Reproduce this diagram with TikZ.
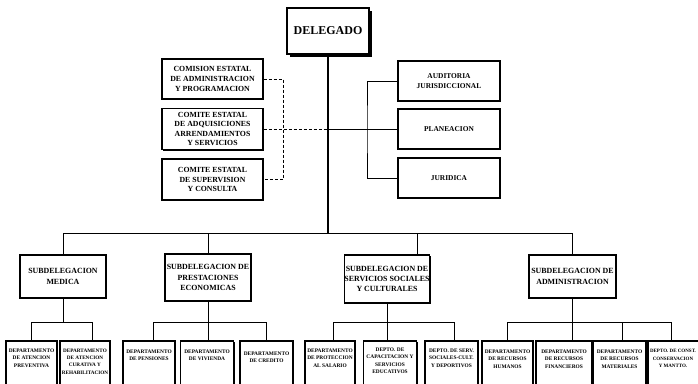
\documentclass[tikz,border=0pt]{standalone}
\usepackage{fontspec}
\setmainfont{Liberation Serif}
\usetikzlibrary{shadows}
\begin{document}
\begin{tikzpicture}[x=1pt,y=-1pt,
  boxbase/.style={draw, line width=1.1pt, fill=white, inner sep=0pt, align=center,
    drop shadow={fill=black, opacity=1, shadow xshift=1pt, shadow yshift=-1pt}},
  topbox/.style={boxbase, line width=1.1pt, font=\fontsize{12}{13}\selectfont\bfseries,
    drop shadow={fill=black, opacity=1, shadow xshift=2.5pt, shadow yshift=-2.5pt}},
  combox/.style={boxbase, minimum width=101pt, font=\fontsize{7.8}{9.6}\selectfont\bfseries},
  rbox/.style={boxbase, minimum width=102pt, minimum height=40pt, font=\fontsize{7.4}{9.5}\selectfont\bfseries},
  subbox/.style={boxbase, font=\fontsize{7.9}{10.3}\selectfont\bfseries},
  dbox/.style={boxbase, minimum height=60pt},
  dtext/.style={anchor=north, inner sep=0pt, align=center, font=\fontsize{5.4}{7.4}\selectfont\bfseries},
  conn/.style={draw, line width=0.9pt},
  mainconn/.style={draw, line width=1.5pt},
  dashline/.style={draw, line width=0.9pt, dash pattern=on 3pt off 2pt}]
\useasboundingbox (0,0) rectangle (698,383);
\clip (0,0) rectangle (698,383);
\fill[white] (0,0) rectangle (698,383);

% top
\node[topbox, minimum width=82pt, minimum height=46pt] (del) at (328,31) {DELEGADO};

% committees
\node[combox, minimum height=40pt] (com1) at (212.5,79) {COMISION ESTATAL\\DE ADMINISTRACION\\Y PROGRAMACION};
\node[combox, minimum height=41pt] (com2) at (212.5,129) {COMITE ESTATAL\\DE ADQUISICIONES\\ARRENDAMIENTOS\\Y SERVICIOS};
\node[combox, minimum height=41pt] (com3) at (212.5,179.5) {COMITE ESTATAL\\DE SUPERVISION\\Y CONSULTA};

% staff
\node[rbox] (aud) at (449,81) {AUDITORIA\\JURISDICCIONAL};
\node[rbox] (pla) at (449,129) {PLANEACION};
\node[rbox] (jur) at (449,178) {JURIDICA};

% subdelegations
\node[subbox, minimum width=86pt, minimum height=43pt] (sm) at (63,276.5) {SUBDELEGACION\\MEDICA};
\node[subbox, minimum width=86pt, minimum height=47pt] (sp) at (208,277.5) {SUBDELEGACION DE\\PRESTACIONES\\ECONOMICAS};
\node[subbox, minimum width=85pt, minimum height=48pt] (ss) at (387,279) {SUBDELEGACION DE\\SERVICIOS SOCIALES\\Y CULTURALES};
\node[subbox, minimum width=87pt, minimum height=43pt] (sa) at (572.5,276.5) {SUBDELEGACION DE\\ADMINISTRACION};

% departments
\node[dbox, minimum width=51pt] (dm1) at (31.5,371) {};
\node[dbox, minimum width=50pt] (dm2) at (85,371) {};
\node[dbox, minimum width=52pt] (dp1) at (149,371) {};
\node[dbox, minimum width=53pt] (dp2) at (207,371) {};
\node[dbox, minimum width=53pt] (dp3) at (266.5,371) {};
\node[dbox, minimum width=50pt] (ds1) at (330,371) {};
\node[dbox, minimum width=53pt] (ds2) at (390,371) {};
\node[dbox, minimum width=53pt] (ds3) at (451.5,371) {};
\node[dbox, minimum width=51pt] (da1) at (507.5,371) {};
\node[dbox, minimum width=56pt] (da2) at (564,371) {};
\node[dbox, minimum width=53pt] (da3) at (619.5,371) {};
\node[dbox, minimum width=54pt] (da4) at (675,371) {};

\node[dtext] (dm1t) at ([yshift=-8pt]dm1.north) {DEPARTAMENTO\\DE ATENCION\\PREVENTIVA};
\node[dtext, font=\fontsize{5.2}{7.4}\selectfont\bfseries] (dm2t) at ([yshift=-8pt]dm2.north) {DEPARTAMENTO\\DE ATENCION\\CURATIVA Y\\REHABILITACION};
\node[dtext] (dp1t) at ([yshift=-9pt]dp1.north) {DEPARTAMENTO\\DE PENSIONES};
\node[dtext] (dp2t) at ([yshift=-9pt]dp2.north) {DEPARTAMENTO\\DE VIVIENDA};
\node[dtext] (dp3t) at ([yshift=-11pt]dp3.north) {DEPARTAMENTO\\DE CREDITO};
\node[dtext] (ds1t) at ([yshift=-8pt]ds1.north) {DEPARTAMENTO\\DE PROTECCION\\AL SALARIO};
\node[dtext] (ds2t) at ([yshift=-7pt]ds2.north) {DEPTO. DE\\CAPACITACION Y\\SERVICIOS\\EDUCATIVOS};
\node[dtext] (ds3t) at ([yshift=-8pt]ds3.north) {DEPTO. DE SERV.\\SOCIALES-CULT.\\Y DEPORTIVOS};
\node[dtext] (da1t) at ([yshift=-9pt]da1.north) {DEPARTAMENTO\\DE RECURSOS\\HUMANOS};
\node[dtext] (da2t) at ([yshift=-9pt]da2.north) {DEPARTAMENTO\\DE RECURSOS\\FINANCIEROS};
\node[dtext] (da3t) at ([yshift=-9pt]da3.north) {DEPARTAMENTO\\DE RECURSOS\\MATERIALES};
\node[dtext, font=\fontsize{5}{7.4}\selectfont\bfseries] (da4t) at ([xshift=-2pt,yshift=-9pt]da4.north) {DEPTO. DE CONST.\\CONSERVACION\\Y MANTTO.};

% coordinates
\coordinate (mbar) at (328,233);
\coordinate (dvx) at (283,129);
\coordinate (rvx) at (367,129);
\coordinate (mb) at (63,322);
\coordinate (pb) at (208,322);
\coordinate (sb) at (387,322);
\coordinate (ab) at (572.5,322);
\coordinate (dm2top) at ([xshift=7pt]dm2.north);
\coordinate (dp1top) at ([xshift=4pt]dp1.north);
\coordinate (ds1top) at ([xshift=3pt]ds1.north);
\coordinate (ds3top) at ([xshift=2.5pt]ds3.north);
\coordinate (da3top) at ([xshift=2.5pt]da3.north);
\coordinate (da4top) at ([xshift=-4pt]da4.north);
\coordinate (sstop) at ([xshift=30pt]ss.north);

% top connectors
\draw[mainconn] (del.south) -- (mbar);
\draw[dashline] (com1.east) -| (dvx) |- (com3.east);
\draw[dashline] (com2.east) -- (com2.east -| del.south);
\draw[conn] (pla.west -| del.south) -- (pla.west);
\draw[conn] (aud.west) -| (rvx) |- (jur.west);

% main bar
\draw[conn] (sm.north) |- (mbar);
\draw[conn] (sa.north) |- (mbar);
\draw[conn] (sp.north) -- (sp.north |- mbar);
\draw[conn] (sstop) -- (sstop |- mbar);

% medica
\draw[conn] (sm.south) -- (mb);
\draw[conn] (dm1.north) |- (dm2top |- mb) -- (dm2top);
% prestaciones
\draw[conn] (sp.south) -- (sp.south |- dp2.north);
\draw[conn] (dp1top) -- (dp1top |- pb) -- (dp3.north |- pb) -- (dp3.north);
% servicios
\draw[conn] (ss.south) -- (ss.south |- ds2.north);
\draw[conn] (ds1top) -- (ds1top |- sb) -- (ds3top |- sb) -- (ds3top);
% administracion
\draw[conn] (sa.south) -- (sa.south |- da2.north);
\draw[conn] (da1.north) -- (da1.north |- ab) -- (da4top |- ab) -- (da4top);
\draw[conn] (da3top) -- (da3top |- ab);
\end{tikzpicture}
\end{document}
